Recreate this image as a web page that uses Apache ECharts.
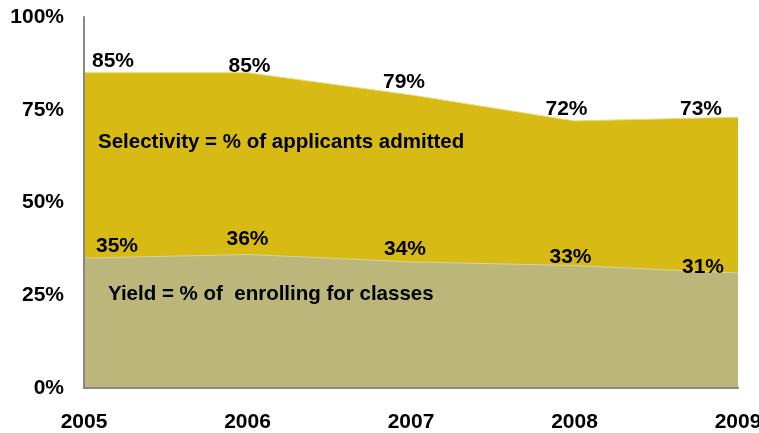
<!DOCTYPE html>
<html>
<head>
<meta charset="utf-8">
<script src="https://cdn.jsdelivr.net/npm/echarts@6/dist/echarts.min.js"></script>
<style>
html,body{margin:0;padding:0;background:#fff;}
#c{width:759px;height:433px;}
</style>
</head>
<body>
<div id="c"></div>
<script>
const years = ['2005', '2006', '2007', '2008', '2009'];
const selectivity = [0.85, 0.85, 0.79, 0.72, 0.73];
const yieldVals = [0.35, 0.36, 0.34, 0.33, 0.31];
const yTicks = [0, 0.25, 0.5, 0.75, 1];
const selectivityLabel = 'Selectivity = % of applicants admitted';
const yieldLabel = 'Yield = % of  enrolling for classes';

const FONT = '"Liberation Sans", Arial, sans-serif';
const FS = 21;
// label nudges (style only)
const selShift = [[29, 2.5], [2, 7], [-7, 0.5], [-8, 2], [-37, 5.5]];
const yldShift = [[33, 2], [0, -1.5], [-6, 1], [-4, 5.5], [-35, 7.5]];

function pct(v) { return Math.round(v * 100) + '%'; }

const labelCfg = { show: true, position: 'top', distance: 2, formatter: p => pct(p.value),
  color: '#000', fontWeight: 'bold', fontSize: FS, fontFamily: FONT };

const chart = echarts.init(document.getElementById('c'), null, { renderer: 'canvas' });
chart.setOption({
  animation: false,
  grid: { left: 84, right: 21, top: 17, bottom: 45, containLabel: false, outerBoundsMode: 'none' },
  xAxis: {
    type: 'category',
    data: years,
    boundaryGap: false,
    z: 5,
    axisLine: { lineStyle: { color: '#888', width: 2 } },
    axisTick: { show: false },
    axisLabel: { color: '#000', fontWeight: 'bold', fontSize: FS, fontFamily: FONT, margin: 24 }
  },
  yAxis: {
    type: 'value',
    min: 0, max: 1, interval: 0.25,
    z: 5,
    axisLine: { show: true, lineStyle: { color: '#888', width: 2 } },
    axisTick: { show: false },
    splitLine: { show: false },
    axisLabel: { color: '#000', fontWeight: 'bold', fontSize: FS, fontFamily: FONT, margin: 20,
      formatter: v => yTicks.includes(v) ? pct(v) : '' }
  },
  series: [
    {
      type: 'line',
      data: selectivity,
      symbol: 'circle',
      symbolSize: 2,
      showSymbol: true,
      itemStyle: { color: 'rgba(0,0,0,0)' },
      lineStyle: { width: 1, color: '#E8DB86' },
      areaStyle: { color: '#D7BA14', opacity: 1 },
      label: labelCfg,
      labelLayout: p => ({ dx: selShift[p.dataIndex][0], dy: selShift[p.dataIndex][1], hideOverlap: false }),
      z: 2
    },
    {
      type: 'line',
      data: yieldVals,
      symbol: 'circle',
      symbolSize: 2,
      showSymbol: true,
      itemStyle: { color: 'rgba(0,0,0,0)' },
      lineStyle: { width: 1, color: '#D9D3A0' },
      areaStyle: { color: '#BBB77A', opacity: 1 },
      label: labelCfg,
      labelLayout: p => ({ dx: yldShift[p.dataIndex][0], dy: yldShift[p.dataIndex][1], hideOverlap: false }),
      z: 3
    }
  ],
  graphic: [
    { type: 'text', left: 98, top: 132, z: 10,
      style: { text: selectivityLabel, fill: '#000', font: 'bold 20.5px ' + FONT } },
    { type: 'text', left: 108, top: 284, z: 10,
      style: { text: yieldLabel, fill: '#000', font: 'bold 20.5px ' + FONT } }
  ]
});
</script>
</body>
</html>
